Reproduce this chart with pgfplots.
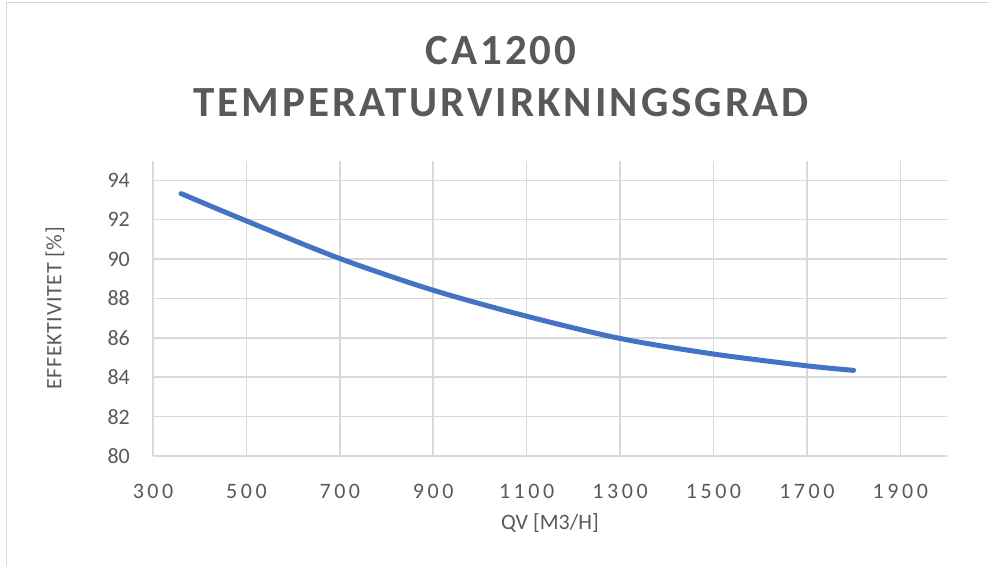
\documentclass[border=0pt]{standalone}
\usepackage{fontspec}
\setmainfont{Carlito}
\usepackage{pgfplots}
\pgfplotsset{compat=1.18}
\definecolor{txt}{HTML}{595959}
\definecolor{grd}{HTML}{D9D9D9}
\definecolor{ln}{HTML}{4472C4}
\begin{document}
\begin{tikzpicture}[x=1bp,y=1bp]
\useasboundingbox (0,0) rectangle (989,566);
\draw[grd, line width=1.5bp] (6.5,0) -- (6.5,563.5) -- (989,563.5);
\node[txt, font=\fontsize{43bp}{50bp}\selectfont\bfseries\addfontfeature{LetterSpace=7}] at (501,515) {CA1200};
\node[txt, font=\fontsize{43bp}{50bp}\selectfont\bfseries\addfontfeature{LetterSpace=7}] at (501,463) {TEMPERATURVIRKNINGSGRAD};
\begin{axis}[
  at={(153bp,110bp)}, anchor=south west,
  width=794bp, height=295.3bp, scale only axis,
  xmin=300, xmax=2000, ymin=80, ymax=95,
  xtick={300,500,...,1900}, ytick={80,82,...,94},
  axis line style={draw=none},
  major tick length=0pt,
  grid=major,
  major grid style={grd, line width=1.5bp},
  /pgf/number format/assume math mode=true,
  /pgf/number format/1000 sep={},
  xticklabel style={txt, font=\fontsize{22bp}{26bp}\selectfont\addfontfeature{LetterSpace=16}, anchor=center, yshift=-35bp},
  yticklabel style={txt, font=\fontsize{22bp}{26bp}\selectfont, anchor=east, inner sep=0pt, xshift=-23bp},
  xlabel={QV [M3/H]},
  ylabel={EFFEKTIVITET [\%]},
  xlabel style={txt, font=\fontsize{22bp}{26bp}\selectfont, at={(rel axis cs:0.5,0)}, anchor=center, yshift=-67bp},
  ylabel style={txt, font=\fontsize{22bp}{26bp}\selectfont\addfontfeature{LetterSpace=3}, at={(rel axis cs:0,0.5)}, anchor=center, yshift=98bp},
  clip=false,
]
\addplot[ln, line width=5bp, smooth, line cap=round] coordinates {
(360,93.33) (500,91.94) (700,90.03) (900,88.42) (1100,87.10) (1300,85.97) (1500,85.18) (1700,84.58) (1800,84.35)
};
\end{axis}
\end{tikzpicture}
\end{document}
